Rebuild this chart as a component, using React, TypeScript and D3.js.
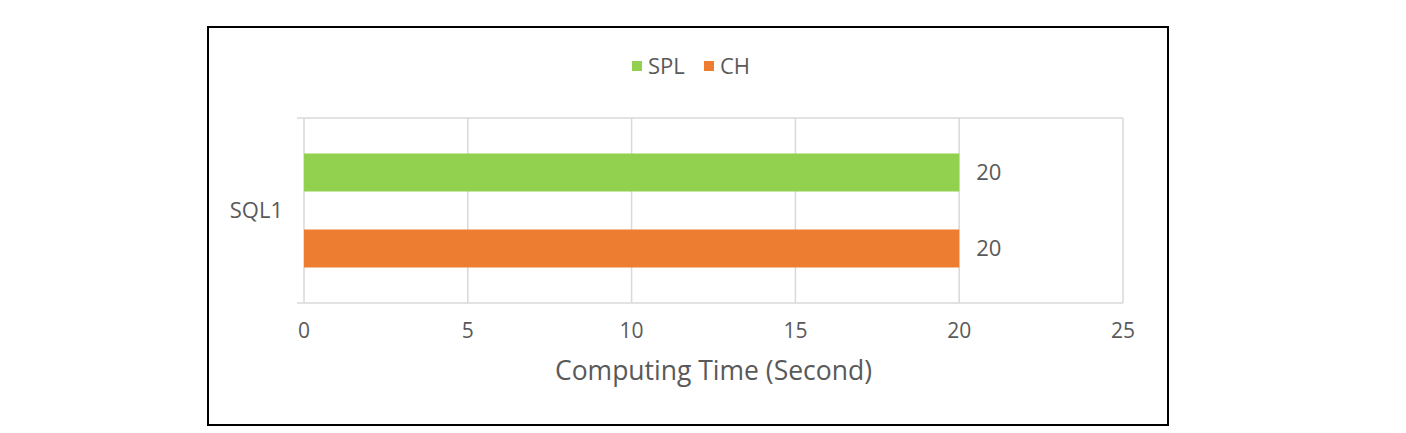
import React, { useRef, useEffect } from 'react';
import * as d3 from 'd3';

const categories = ['SQL1'];
const seriesNames = ['SPL', 'CH'];
const seriesValues = [[20], [20]]; // per series, per category
const xTicks = [0, 5, 10, 15, 20, 25];
const colors = ['#92D050', '#ED7D31'];

const W = 1406;
const H = 433;
const FONT = '"Open Sans", "Noto Sans", sans-serif';
const TEXT = '#595959';

function BarChart() {
  const svgRef = useRef<SVGSVGElement>(null);

  useEffect(() => {
    const svg = d3.select(svgRef.current);
    svg.selectAll('*').remove();

    // outer frame
    svg
      .append('rect')
      .attr('x', 208)
      .attr('y', 27)
      .attr('width', 960)
      .attr('height', 398)
      .attr('fill', '#fff')
      .attr('stroke', '#000')
      .attr('stroke-width', 2);

    const left = 304;
    const right = 1123;
    const top = 118;
    const bottom = 303;

    const x = d3.scaleLinear().domain([0, 25]).range([left, right]);
    const y0 = d3.scaleBand().domain(categories).range([top, bottom]);
    const y1 = d3
      .scaleBand()
      .domain(seriesNames)
      .range([0, y0.bandwidth()])
      .paddingInner(0.5)
      .paddingOuter(0.467);

    const g = svg.append('g');

    // gridlines
    g.selectAll('.grid')
      .data(xTicks)
      .enter()
      .append('line')
      .attr('x1', (d) => x(d))
      .attr('x2', (d) => x(d))
      .attr('y1', top)
      .attr('y2', bottom)
      .attr('stroke', '#D9D9D9')
      .attr('stroke-width', 1.5);

    // category boundary lines
    [top, bottom].forEach((yy) => {
      g.append('line')
        .attr('x1', left - 7)
        .attr('x2', right)
        .attr('y1', yy)
        .attr('y2', yy)
        .attr('stroke', '#D9D9D9')
        .attr('stroke-width', 1.5);
    });

    // bars
    const rows = categories.flatMap((c, ci) =>
      seriesNames.map((s, si) => ({ c, s, si, v: seriesValues[si][ci] }))
    );

    g.selectAll('.bar')
      .data(rows)
      .enter()
      .append('rect')
      .attr('x', x(0))
      .attr('y', (d) => y0(d.c)! + y1(d.s)!)
      .attr('width', (d) => x(d.v) - x(0))
      .attr('height', y1.bandwidth())
      .attr('fill', (d) => colors[d.si]);

    // value labels
    g.selectAll('.val')
      .data(rows)
      .enter()
      .append('text')
      .attr('x', (d) => x(d.v) + 17)
      .attr('y', (d) => y0(d.c)! + y1(d.s)! + y1.bandwidth() / 2)
      .attr('dy', '0.35em')
      .attr('font-family', FONT)
      .attr('font-size', 22)
      .attr('fill', TEXT)
      .text((d) => d.v);

    // category labels
    g.selectAll('.cat')
      .data(categories)
      .enter()
      .append('text')
      .attr('x', 283)
      .attr('y', (d) => y0(d)! + y0.bandwidth() / 2)
      .attr('dy', '0.35em')
      .attr('text-anchor', 'end')
      .attr('font-family', FONT)
      .attr('font-size', 22)
      .attr('fill', TEXT)
      .text((d) => d);

    // x tick labels
    g.selectAll('.tick')
      .data(xTicks)
      .enter()
      .append('text')
      .attr('x', (d) => x(d))
      .attr('y', 331)
      .attr('dy', '0.35em')
      .attr('text-anchor', 'middle')
      .attr('font-family', FONT)
      .attr('font-size', 21)
      .attr('fill', TEXT)
      .text((d) => d);

    // axis title
    g.append('text')
      .attr('x', (left + right) / 2)
      .attr('y', 371)
      .attr('dy', '0.35em')
      .attr('text-anchor', 'middle')
      .attr('font-family', FONT)
      .attr('font-size', 26.5)
      .attr('fill', TEXT)
      .text('Computing Time (Second)');

    // legend
    const legend = g.append('g').attr('transform', 'translate(632,66)');
    const offsets = [0, 72];
    seriesNames.forEach((s, i) => {
      const lg = legend.append('g').attr('transform', `translate(${offsets[i]},0)`);
      lg.append('rect')
        .attr('x', 0)
        .attr('y', -5)
        .attr('width', 10)
        .attr('height', 10)
        .attr('fill', colors[i]);
      lg.append('text')
        .attr('x', 16)
        .attr('y', 0)
        .attr('dy', '0.35em')
        .attr('font-family', FONT)
        .attr('font-size', 22)
        .attr('fill', TEXT)
        .text(s);
    });
  }, []);

  return (
    <svg
      ref={svgRef}
      width={W}
      height={H}
      style={{ position: 'absolute', left: 0, top: 0, background: '#fff' }}
    />
  );
}

export default function App() {
  return <BarChart />;
}
